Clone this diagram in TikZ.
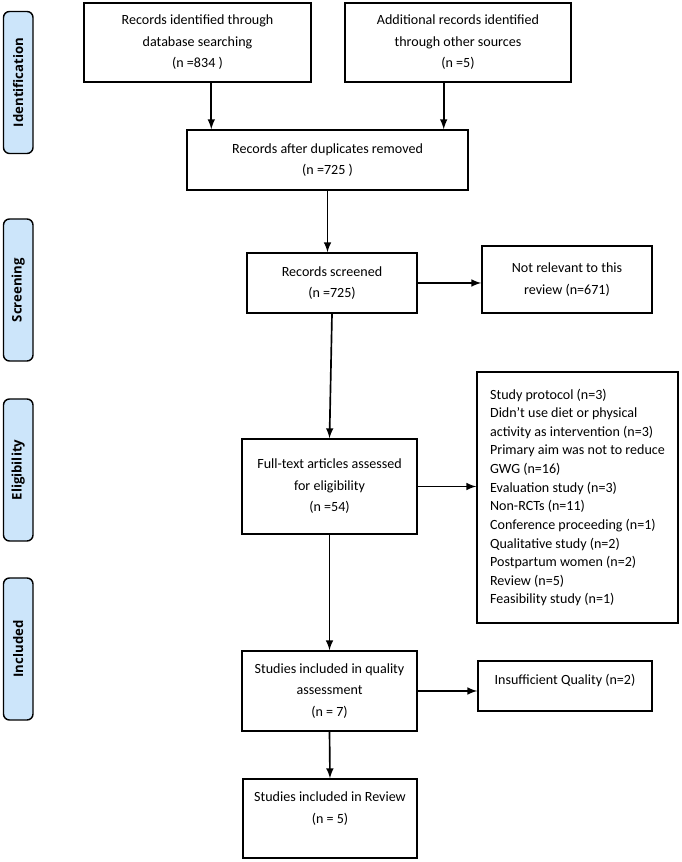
\documentclass[tikz,border=0pt]{standalone}
\usepackage{fontspec}
\setmainfont{Carlito}
\newfontfamily\stagefont{Open Sans}
\usetikzlibrary{arrows}
\newcommand{\boxfont}{\fontsize{8pt}{12.2pt}\selectfont}
\newcommand{\listfont}{\fontsize{8pt}{10.6pt}\selectfont}
\newcommand{\stagesize}{\stagefont\bfseries\fontsize{7.5pt}{9pt}\selectfont}
\definecolor{stageblue}{RGB}{204,229,250}

\begin{document}
\begin{tikzpicture}[
  recbox/.style={draw, line width=0.8pt, align=center, inner sep=1pt, font=\boxfont},
  stage/.style={draw, line width=0.8pt, fill=stageblue, rounded corners=0.12cm, rotate=90,
    minimum width=2.84cm, minimum height=0.59cm, inner sep=0pt, font=\stagesize},
  arr/.style={-latex, line width=0.95pt}
]
\useasboundingbox (0,0) rectangle (13.62,17.24);
%stage tabs on the left
\foreach \y/\t in {15.59/Identification,11.44/Screening,7.84/Eligibility,4.26/Included}
\node[stage] (\t) at (0.365,\y) {\t};
%identification
\node[recbox, minimum width=4.54cm, minimum height=1.58cm] (dbs) at (3.95,16.39) {Records identified through\\database searching\\(n =834 )};
\node[recbox, minimum width=4.52cm, minimum height=1.58cm] (other) at (9.16,16.39) {Additional records identified\\through other sources\\(n =5)};
\node[recbox, minimum width=5.62cm, minimum height=1.2cm] (dup) at (6.55,14.04) {Records after duplicates removed\\(n =725 )};
%screening
\node[recbox, minimum width=3.4cm, minimum height=1.2cm] (screen) at (6.64,11.58) {Records screened\\(n =725)};
\node[recbox, minimum width=3.4cm, minimum height=1.34cm] (notrel) at (11.34,11.65) {Not relevant to this\\review (n=671)};
%eligibility
\node[recbox, minimum width=3.5cm, minimum height=1.9cm] (full) at (6.59,7.51) {Full-text articles assessed\\for eligibility\\(n =54)};
\node[recbox, align=left, font=\listfont, minimum width=4.02cm, minimum height=5.02cm] (excl) at (11.55,7.29) {Study protocol (n=3)\\Didn’t use diet or physical\\activity as intervention (n=3)\\Primary aim was not to reduce\\GWG (n=16)\\Evaluation study (n=3)\\Non-RCTs (n=11)\\Conference proceeding (n=1)\\Qualitative study (n=2)\\Postpartum women (n=2)\\Review (n=5)\\Feasibility study (n=1)};
%included
\node[recbox, minimum width=3.5cm, minimum height=1.6cm] (qual) at (6.59,3.42) {Studies included in quality\\assessment\\(n = 7)};
\node[recbox, minimum width=3.48cm, minimum height=1.0cm, text depth=0.25cm] (insuf) at (11.3,3.52) {Insufficient Quality (n=2)};
\node[recbox, minimum width=3.48cm, minimum height=1.58cm] (incl) at (6.6,0.87) {Studies included in Review\\(n = 5)\\\mbox{}};
% draw arrows
\draw[arr] ([xshift=0.5cm]dup.north west |- dbs.south) -- ([xshift=0.5cm]dup.north west);
\draw[arr] ([xshift=-0.5cm]dup.north east |- other.south) -- ([xshift=-0.5cm]dup.north east);
\draw[arr] (dup.south) -- (dup.south |- screen.north);
\draw[arr] (screen.east) -- (screen.east -| notrel.west);
\draw[arr] (screen.south) -- (full.north);
\draw[arr] (full.east) -- (full.east -| excl.west);
\draw[arr] (full.south) -- (qual.north);
\draw[arr] (qual.east) -- (qual.east -| insuf.west);
\draw[arr] (qual.south) -- (incl.north);
\end{tikzpicture}
\end{document}
